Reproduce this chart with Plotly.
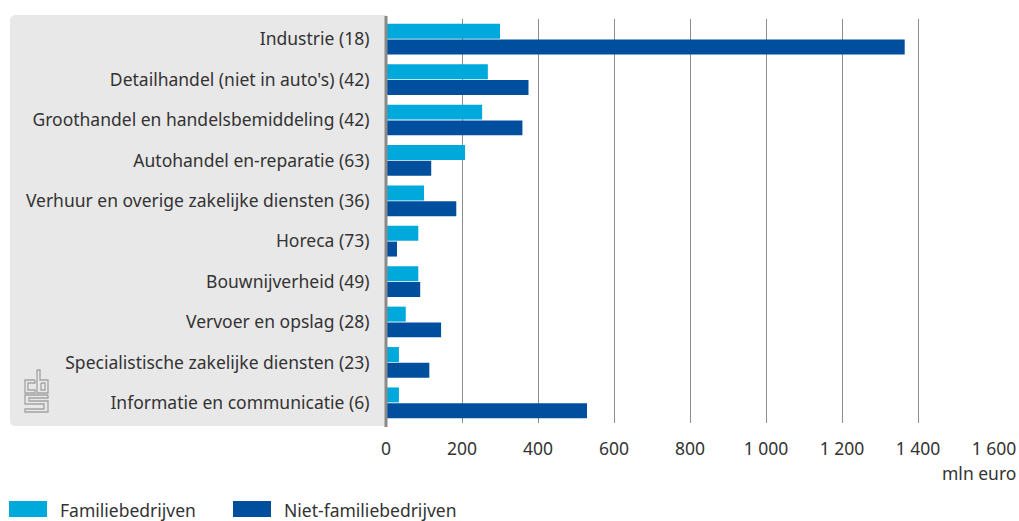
import plotly.graph_objects as go

# data (mln euro)
categories = [
    "Industrie (18)",
    "Detailhandel (niet in auto's) (42)",
    "Groothandel en handelsbemiddeling (42)",
    "Autohandel en-reparatie (63)",
    "Verhuur en overige zakelijke diensten (36)",
    "Horeca (73)",
    "Bouwnijverheid (49)",
    "Vervoer en opslag (28)",
    "Specialistische zakelijke diensten (23)",
    "Informatie en communicatie (6)",
]
familie = [300, 268, 253, 208, 100, 85, 85, 52, 34, 34]
niet_familie = [1365, 375, 359, 119, 185, 29, 90, 145, 114, 529]

series_names = ["Familiebedrijven", "Niet-familiebedrijven"]
series_colors = ["#00a9db", "#004f9f"]

tick_vals = [0, 200, 400, 600, 800, 1000, 1200, 1400, 1600]
tick_text = ["0", "200", "400", "600", "800", "1 000", "1 200", "1 400", "1 600"]

W, H = 1019, 521
L, R, T, B = 386, 25, 19, 98
pw = W - L - R
ph = H - T - B


def px(x):
    return (x - L) / pw


def py(y):
    return (H - B - y) / ph


FONT = "Noto Sans"
FS = 17.5
TXT = "#333333"

fig = go.Figure()
for name, vals, col in zip(series_names, [familie, niet_familie], series_colors):
    fig.add_trace(go.Bar(y=categories, x=vals, name=name, orientation="h",
                         marker=dict(color=col, line=dict(width=0)),
                         showlegend=False))

shapes = []
# grey panel behind the category labels, rounded corners
x0, x1, y0, y1, r = px(10), px(386), py(426), py(15), 6
rx, ry = r / pw, r / ph
panel = (f"M {x0+rx},{y1} L {x1},{y1} L {x1},{y0} L {x0+rx},{y0} "
         f"Q {x0},{y0} {x0},{y0+ry} L {x0},{y1-ry} Q {x0},{y1} {x0+rx},{y1} Z")
shapes.append(dict(type="path", path=panel, xref="paper", yref="paper",
                   fillcolor="#e8e8e8", line=dict(width=0), layer="below"))
# vertical axis line
shapes.append(dict(type="line", xref="paper", yref="paper", x0=px(386), x1=px(386),
                   y0=py(427), y1=py(16), line=dict(color="#8a8a8a", width=3),
                   layer="above"))

# cbs logo (outline drawing)
logo_paths = [
    [(35, 380), (25, 380), (25, 393), (35, 393), (35, 390), (28, 390), (28, 383), (35, 383), (35, 380)],
    [(37, 370), (40, 370), (40, 380), (48, 380), (48, 393), (37, 393), (37, 370)],
    [(41, 383), (45, 383), (45, 390), (41, 390), (41, 383)],
    [(48, 395), (25, 395), (25, 404), (44, 404), (44, 409), (25, 409), (25, 412),
     (48, 412), (48, 401), (29, 401), (29, 398), (48, 398), (48, 395)],
]
for pts in logo_paths:
    d = "M " + " L ".join(f"{px(a)},{py(b)}" for a, b in pts)
    shapes.append(dict(type="path", path=d, xref="paper", yref="paper",
                       line=dict(color="#a3a3a3", width=1.3), layer="above"))

# legend swatches
annotations = []
leg_x = [9, 233]
for i, (name, col) in enumerate(zip(series_names, series_colors)):
    shapes.append(dict(type="rect", xref="paper", yref="paper",
                       x0=px(leg_x[i]), x1=px(leg_x[i] + 38), y0=py(517), y1=py(501),
                       fillcolor=col, line=dict(width=0)))
    annotations.append(dict(text=name, xref="paper", yref="paper",
                            x=px(leg_x[i] + 49), y=py(510), xanchor="left", yanchor="middle",
                            showarrow=False, font=dict(family=FONT, size=FS, color=TXT)))

annotations.append(dict(text="mln euro", xref="paper", yref="paper", x=px(1018), y=py(473),
                        xanchor="right", yanchor="middle", showarrow=False,
                        font=dict(family=FONT, size=FS, color=TXT)))

fig.update_layout(
    width=W, height=H,
    margin=dict(l=L, r=R, t=T, b=B),
    paper_bgcolor="white", plot_bgcolor="white",
    barmode="group", bargap=0.22, bargroupgap=0.05,
    font=dict(family=FONT, size=FS, color=TXT),
    shapes=shapes, annotations=annotations,
    xaxis=dict(range=[0, 1600], tickvals=tick_vals, ticktext=tick_text,
               showgrid=True, gridcolor="#8c8c8c", gridwidth=1, zeroline=False,
               ticks="outside", ticklen=10, tickcolor="rgba(0,0,0,0)",
               showline=False, fixedrange=True, automargin=False),
    yaxis=dict(categoryorder="array", categoryarray=categories, autorange="reversed",
               ticks="outside", ticklen=12, tickcolor="rgba(0,0,0,0)",
               showgrid=False, zeroline=False, showline=False, fixedrange=True,
               automargin=False),
)

fig.write_html("out.html", config={"displayModeBar": False},
               post_script="document.body.style.margin='0px';")
